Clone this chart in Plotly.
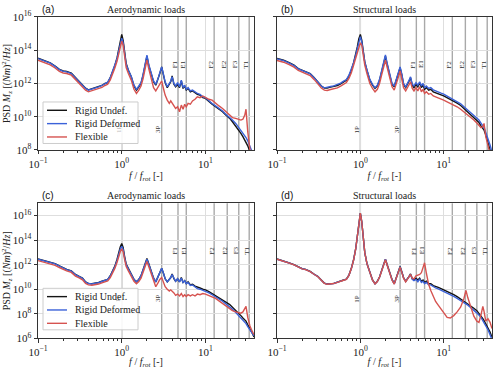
import numpy as np
import plotly.graph_objects as go

# normalised frequency f/f_rot
freq = [0.1, 0.12, 0.14, 0.16, 0.18, 0.2, 0.22, 0.25, 0.28, 0.31, 0.34, 0.37,
        0.4, 0.44, 0.48, 0.53, 0.58, 0.63, 0.68, 0.73, 0.78, 0.83, 0.88, 0.92, 0.96,
        1.0, 1.04, 1.08, 1.13, 1.2, 1.3, 1.4, 1.5, 1.6, 1.7, 1.8, 1.9,
        2.0, 2.1, 2.25, 2.4, 2.55, 2.7, 2.85, 3.0, 3.15, 3.3, 3.5, 3.7, 3.85,
        4.0, 4.2, 4.4, 4.65, 4.9, 5.15, 5.4, 5.65, 5.9, 6.2, 6.6, 7.0, 7.5,
        8.0, 8.6, 9.3, 10.0, 11.0, 12.0, 13.2, 14.5, 16.0, 17.5, 18.5, 19.5,
        21.0, 23.0, 25.0, 26.5, 28.0, 29.5, 30.5, 32.0, 34.0, 36.0, 38.0]

# log10 of PSD M_z
# (a) aerodynamic loads, top row
a_undef = [13.52, 13.38, 13.24, 13.05, 12.85, 12.75, 12.72, 12.62, 12.35, 12.12, 11.9, 11.72,
           11.62, 11.68, 11.74, 11.8, 11.88, 12.0, 12.05, 12.35, 12.7, 13.1, 13.55, 14.05, 14.6,
           14.95, 14.6, 13.9, 13.2, 12.8, 12.4, 11.85, 11.6, 11.8, 12.0, 12.5, 13.0,
           13.65, 13.1, 12.55, 12.1, 11.9, 12.2, 12.6, 13.0, 12.5, 12.05, 11.75, 11.95, 12.1,
           12.45, 11.95, 11.8, 11.95, 11.75, 12.15, 11.7, 11.85, 11.6, 11.7, 11.5, 11.55, 11.45,
           11.35, 11.3, 11.15, 11.1, 10.9, 10.75, 10.6, 10.45, 10.3, 10.1, 10.0, 9.9,
           9.7, 9.45, 9.2, 9.0, 8.8, 8.6, 8.45, 8.25, 7.9, 7.6, 7.3]
a_deformed = [13.5, 13.36, 13.22, 13.03, 12.83, 12.73, 12.7, 12.6, 12.33, 12.1, 11.88, 11.7,
              11.6, 11.66, 11.72, 11.8, 11.88, 12.0, 12.08, 12.35, 12.72, 13.1, 13.5, 13.95, 14.45,
              14.72, 14.45, 13.8, 13.15, 12.8, 12.42, 11.9, 11.65, 11.85, 12.05, 12.55, 13.05,
              13.7, 13.15, 12.6, 12.15, 11.95, 12.25, 12.65, 13.0, 12.55, 12.1, 11.8, 12.0, 12.15,
              12.4, 12.0, 11.85, 12.05, 11.8, 12.2, 11.75, 11.9, 11.65, 11.75, 11.55, 11.6, 11.5,
              11.4, 11.35, 11.2, 11.15, 10.95, 10.8, 10.65, 10.5, 10.35, 10.15, 10.05, 9.95,
              9.8, 9.6, 9.35, 9.2, 9.0, 8.85, 8.75, 8.55, 8.25, 7.95, 7.6]
a_flexible = [13.4, 13.26, 13.12, 12.93, 12.73, 12.63, 12.6, 12.5, 12.23, 12.0, 11.78, 11.6,
              11.5, 11.56, 11.62, 11.68, 11.76, 11.88, 11.95, 12.22, 12.55, 12.95, 13.35, 13.8, 14.25,
              14.55, 14.3, 13.6, 12.95, 12.6, 12.2, 11.65, 11.4, 11.6, 11.85, 12.3, 12.8,
              13.4, 12.9, 12.2, 11.75, 11.55, 11.75, 12.0, 12.15, 11.7, 11.3, 11.0, 10.8, 10.95,
              10.8, 10.65, 10.5, 10.6, 10.3, 10.7, 10.45, 10.75, 10.6, 10.8, 10.75, 10.95, 11.05,
              11.2, 11.15, 11.25, 11.15, 11.05, 11.0, 10.8, 10.65, 10.5, 10.3, 10.2, 10.1,
              9.95, 9.9, 9.85, 9.8, 9.85, 10.1, 10.45, 9.1, 8.0, 7.5, 7.2]

# (b) structural loads, top row
b_undef = [13.5, 13.4, 13.25, 13.1, 12.9, 12.8, 12.74, 12.6, 12.35, 12.05, 11.85, 11.72,
           11.72, 11.78, 11.82, 11.88, 11.98, 12.1, 12.2, 12.45, 12.8, 13.25, 13.75, 14.2, 14.7,
           14.95, 14.6, 14.0, 13.3, 12.8, 12.2, 11.9, 11.7, 11.85, 12.2, 12.7, 13.2,
           13.65, 13.15, 12.45, 11.95, 11.8, 12.2, 12.6, 12.95, 12.5, 11.95, 11.75, 11.95, 12.15,
           12.35, 11.9, 11.75, 11.95, 11.8, 12.05, 11.75, 11.9, 11.65, 11.75, 11.6, 11.65, 11.5,
           11.45, 11.42, 11.32, 11.25, 11.15, 11.05, 10.95, 10.82, 10.68, 10.5, 10.4, 10.3,
           10.15, 9.98, 9.82, 9.65, 9.45, 9.3, 9.2, 8.9, 8.5, 8.05, 7.6]
b_deformed = [13.48, 13.38, 13.23, 13.08, 12.88, 12.78, 12.72, 12.58, 12.33, 12.05, 11.85, 11.74,
              11.76, 11.82, 11.86, 11.92, 12.02, 12.14, 12.24, 12.5, 12.85, 13.25, 13.7, 14.1, 14.55,
              14.82, 14.5, 13.95, 13.3, 12.82, 12.25, 11.95, 11.75, 11.9, 12.25, 12.75, 13.25,
              13.72, 13.2, 12.5, 12.0, 11.85, 12.25, 12.65, 13.0, 12.55, 12.0, 11.8, 12.0, 12.2,
              12.4, 11.95, 11.85, 12.05, 11.9, 12.1, 11.85, 12.0, 11.75, 11.85, 11.7, 11.75, 11.62,
              11.55, 11.5, 11.42, 11.36, 11.25, 11.15, 11.05, 10.92, 10.78, 10.6, 10.5, 10.4,
              10.25, 10.1, 9.95, 9.8, 9.62, 9.45, 9.35, 9.05, 8.7, 8.3, 7.9]
b_flexible = [13.38, 13.28, 13.13, 12.98, 12.78, 12.68, 12.62, 12.48, 12.23, 11.93, 11.73, 11.6,
              11.58, 11.64, 11.68, 11.74, 11.84, 11.96, 12.06, 12.3, 12.65, 13.1, 13.55, 13.95, 14.3,
              14.45, 14.3, 13.75, 13.1, 12.6, 12.0, 11.7, 11.5, 11.65, 12.0, 12.5, 13.0,
              13.4, 12.95, 12.25, 11.8, 11.6, 11.95, 12.35, 12.75, 12.3, 11.75, 11.55, 11.75, 11.95,
              12.1, 11.7, 11.55, 11.75, 11.55, 11.8, 11.5, 11.65, 11.4, 11.5, 11.35, 11.4, 11.25,
              11.2, 11.15, 11.05, 11.0, 10.9, 10.82, 10.72, 10.6, 10.45, 10.3, 10.2, 10.1,
              9.95, 9.8, 9.62, 9.5, 9.35, 9.4, 9.6, 8.8, 8.2, 7.7, 7.3]

# (c) aerodynamic loads, bottom row
c_undef = [12.46, 12.33, 12.2, 12.08, 11.9, 11.72, 11.62, 11.5, 11.2, 11.05, 10.9, 10.6,
           10.48, 10.45, 10.48, 10.55, 10.65, 10.75, 10.8, 11.1, 11.45, 11.9, 12.45, 13.0, 13.45,
           13.72, 13.4, 12.7, 12.05, 11.7, 11.25, 10.8, 10.6, 10.8, 11.1, 11.6, 12.0,
           12.5, 12.1, 11.45, 10.9, 10.6, 10.95, 11.35, 11.7, 11.3, 10.85, 10.6, 10.8, 10.95,
           11.25, 10.85, 10.65, 10.85, 10.6, 10.95, 10.55, 10.7, 10.45, 10.6, 10.35, 10.4, 10.25,
           10.15, 10.1, 10.0, 9.95, 9.8, 9.65, 9.5, 9.3, 9.15, 8.95, 8.85, 8.75,
           8.55, 8.3, 8.05, 7.85, 7.65, 7.5, 7.4, 7.1, 6.8, 6.45, 6.1]
c_deformed = [12.44, 12.31, 12.18, 12.06, 11.88, 11.7, 11.6, 11.48, 11.18, 11.03, 10.88, 10.58,
              10.46, 10.43, 10.46, 10.53, 10.63, 10.73, 10.8, 11.08, 11.42, 11.85, 12.35, 12.85, 13.25,
              13.5, 13.25, 12.6, 12.0, 11.65, 11.2, 10.8, 10.6, 10.8, 11.1, 11.6, 12.0,
              12.45, 12.05, 11.45, 10.9, 10.6, 10.95, 11.35, 11.7, 11.3, 10.85, 10.6, 10.8, 10.95,
              11.2, 10.85, 10.65, 10.85, 10.6, 10.9, 10.55, 10.7, 10.45, 10.55, 10.3, 10.35, 10.2,
              10.05, 10.0, 9.9, 9.85, 9.7, 9.55, 9.4, 9.2, 9.02, 8.82, 8.7, 8.6,
              8.38, 8.1, 7.85, 7.65, 7.45, 7.3, 7.2, 6.95, 6.7, 6.45, 6.2]
c_flexible = [12.33, 12.2, 12.07, 11.95, 11.77, 11.59, 11.49, 11.37, 11.07, 10.92, 10.77, 10.47,
              10.35, 10.32, 10.35, 10.42, 10.52, 10.62, 10.67, 10.95, 11.3, 11.72, 12.2, 12.7, 13.05,
              13.3, 13.05, 12.45, 11.85, 11.5, 11.05, 10.65, 10.45, 10.62, 10.9, 11.4, 11.8,
              12.25, 11.85, 11.2, 10.6, 10.2, 10.5, 10.8, 10.95, 10.55, 10.2, 10.0, 9.85, 9.95,
              9.85, 9.7, 9.5, 9.6, 9.45, 9.65, 9.4, 9.55, 9.4, 9.55, 9.45, 9.55, 9.45,
              9.6, 9.55, 9.65, 9.6, 9.5, 9.4, 9.25, 9.05, 8.85, 8.65, 8.55, 8.45,
              8.25, 8.15, 8.1, 8.05, 8.15, 8.4, 8.6, 7.7, 7.0, 6.6, 6.3]

# (d) structural loads, bottom row
d_undef = [12.46, 12.32, 12.15, 12.0, 11.8, 11.68, 11.62, 11.45, 11.22, 11.04, 10.75, 10.5,
           10.42, 10.42, 10.48, 10.58, 10.7, 10.75, 10.82, 11.15, 11.7, 12.4, 13.3, 14.2, 15.2,
           16.2, 15.5, 14.5, 13.0, 12.1, 11.3, 10.75, 10.45, 10.65, 11.0, 11.55, 12.05,
           12.45, 12.0, 11.35, 10.8, 10.45, 10.9, 11.4, 11.85, 11.4, 10.95, 10.65, 10.85, 11.05,
           11.25, 10.85, 10.75, 10.9, 10.75, 10.9, 10.65, 10.75, 10.55, 10.65, 10.45, 10.45, 10.3,
           10.2, 10.15, 10.05, 9.95, 9.85, 9.7, 9.55, 9.4, 9.2, 9.05, 8.95, 8.85,
           8.7, 8.45, 8.25, 8.05, 7.85, 7.6, 7.45, 7.2, 6.85, 6.5, 6.1]
d_deformed = [12.45, 12.31, 12.14, 11.99, 11.79, 11.67, 11.61, 11.44, 11.21, 11.03, 10.74, 10.49,
              10.41, 10.41, 10.47, 10.57, 10.69, 10.74, 10.81, 11.14, 11.69, 12.39, 13.29, 14.19, 15.19,
              16.18, 15.49, 14.49, 12.99, 12.09, 11.29, 10.74, 10.44, 10.64, 10.99, 11.54, 12.04,
              12.44, 11.98, 11.33, 10.78, 10.43, 10.88, 11.38, 11.83, 11.38, 10.93, 10.63, 10.83, 11.03,
              11.2, 10.8, 10.7, 10.8, 10.6, 10.85, 10.55, 10.65, 10.45, 10.55, 10.35, 10.35, 10.2,
              10.1, 10.02, 9.92, 9.82, 9.7, 9.55, 9.42, 9.25, 9.08, 8.92, 8.82, 8.7,
              8.52, 8.3, 8.08, 7.9, 7.7, 7.45, 7.3, 7.05, 6.7, 6.3, 5.9]
d_flexible = [12.44, 12.3, 12.13, 11.98, 11.78, 11.66, 11.6, 11.43, 11.2, 11.02, 10.73, 10.48,
              10.4, 10.4, 10.46, 10.56, 10.68, 10.73, 10.8, 11.13, 11.68, 12.38, 13.28, 14.18, 15.18,
              16.2, 15.5, 14.5, 13.0, 12.08, 11.28, 10.73, 10.43, 10.63, 10.98, 11.53, 12.03,
              12.4, 11.95, 11.3, 10.75, 10.42, 10.85, 11.35, 11.8, 11.35, 10.9, 10.6, 10.82, 11.0,
              11.2, 10.9, 10.85, 11.1, 11.15, 11.2, 11.35, 11.75, 12.15, 11.3, 10.4, 9.9, 9.4,
              9.0, 8.7, 8.4, 8.1, 7.7, 7.65, 7.85, 8.15, 8.55, 9.25, 9.9, 9.3,
              8.6, 7.8, 7.4, 7.3, 7.9, 8.6, 8.2, 7.4, 7.6, 7.3, 6.8]

series_names = ['Rigid Undef.', 'Rigid Deformed', 'Flexible']

# rotor harmonics and blade modes
harm_names = ['1P', '3P']
harm_freq = [1.0, 3.0]
mode_names = ['F1', 'E1', 'F2', 'E2', 'F3', 'T1']
mode_freq = [4.7, 5.9, 12.7, 18.2, 25.0, 33.3]

x_ticks = [0.1, 1, 10]
x_ticktext = ['10<sup>−1</sup>', '10<sup>0</sup>', '10<sup>1</sup>']
x_minor = [0.2, 0.3, 0.4, 0.5, 0.6, 0.7, 0.8, 0.9, 2, 3, 4, 5, 6, 7, 8, 9, 20, 30]
y_ticks_top = [1e8, 1e10, 1e12, 1e14, 1e16]
y_ticks_bot = [1e6, 1e8, 1e10, 1e12, 1e14, 1e16]

for s in [a_undef, a_deformed, a_flexible, b_undef, b_deformed, b_flexible,
          c_undef, c_deformed, c_flexible, d_undef, d_deformed, d_flexible]:
    assert len(s) == len(freq), len(s)

SERIF = 'Liberation Serif'
COLORS = ['#141414', '#3b62d9', '#d65350']
W, H = 500, 369

panels = [
    dict(tag='(a)', title='Aerodynamic loads', ax='', data=(a_undef, a_deformed, a_flexible),
         xdom=[0.076, 0.508], ydom=[0.5935, 0.954], yr=[8, 16], yt=y_ticks_top, legend=True, ylab=True),
    dict(tag='(b)', title='Structural loads', ax='2', data=(b_undef, b_deformed, b_flexible),
         xdom=[0.554, 0.984], ydom=[0.5935, 0.954], yr=[8, 16], yt=y_ticks_top, legend=False, ylab=False),
    dict(tag='(c)', title='Aerodynamic loads', ax='3', data=(c_undef, c_deformed, c_flexible),
         xdom=[0.076, 0.508], ydom=[0.0832, 0.449], yr=[6, 17], yt=y_ticks_bot, legend=True, ylab=True),
    dict(tag='(d)', title='Structural loads', ax='4', data=(d_undef, d_deformed, d_flexible),
         xdom=[0.554, 0.984], ydom=[0.0832, 0.449], yr=[6, 17], yt=y_ticks_bot, legend=False, ylab=False),
]

fig = go.Figure()
layout = {
    'width': W, 'height': H,
    'margin': dict(l=0, r=0, t=0, b=0, autoexpand=False),
    'paper_bgcolor': 'white', 'plot_bgcolor': 'white',
    'font': dict(family=SERIF, size=10, color='#222222'),
    'showlegend': False,
}
shapes = []
annotations = []
f = np.array(freq)

for p in panels:
    xa = 'x' + p['ax']; ya = 'y' + p['ax']
    for vals, name, col in zip(p['data'], series_names, COLORS):
        fig.add_trace(go.Scatter(x=f, y=10 ** np.array(vals), mode='lines', name=name,
                                 line=dict(color=col, width=1.4), xaxis=xa, yaxis=ya))

    layout['xaxis' + p['ax']] = dict(
        type='log', range=[-1, np.log10(38)], domain=p['xdom'], anchor=ya, automargin=False,
        tickvals=x_ticks, ticktext=x_ticktext, ticks='outside', ticklen=3.5, tickwidth=0.8,
        tickcolor='#333', showline=True, linecolor='#333', linewidth=0.9, mirror=True,
        showgrid=True, gridcolor='#dedede', gridwidth=1, zeroline=False,
        tickfont=dict(family=SERIF, size=11, color='#222'),
        minor=dict(tickvals=x_minor, ticks='outside', ticklen=2, tickwidth=0.6, tickcolor='#333', showgrid=False),
        title=dict(text='<i>f</i> / <i>f<sub>rot</sub></i> [-]', font=dict(family=SERIF, size=10), standoff=2),
    )
    layout['yaxis' + p['ax']] = dict(
        type='log', range=p['yr'], domain=p['ydom'], anchor=xa, automargin=False,
        tickvals=p['yt'], ticktext=['10<sup>%d</sup>' % round(np.log10(v)) for v in p['yt']],
        showticklabels=p['ylab'], ticks='outside', ticklen=3.5, tickwidth=0.8, tickcolor='#333',
        showline=True, linecolor='#333', linewidth=0.9, mirror=True,
        showgrid=True, gridcolor='#dedede', gridwidth=1, zeroline=False,
        tickfont=dict(family=SERIF, size=11, color='#222'),
        title=dict(text='PSD <i>M<sub>z</sub></i> [(<i>Nm</i>)<sup>2</sup>/<i>Hz</i>]' if p['ylab'] else '',
                   font=dict(family=SERIF, size=10), standoff=3),
    )

    # vertical lines for harmonics and modes
    for fv in harm_freq + mode_freq:
        shapes.append(dict(type='line', xref=xa, yref=ya + ' domain', x0=fv, x1=fv, y0=0, y1=1,
                           line=dict(color='#a9a9a9', width=1.4), layer='below'))
    for nm, fv in zip(harm_names, harm_freq):
        col = 'rgba(51,51,51,0.35)' if (p['legend'] and nm == '1P') else '#333'
        annotations.append(dict(text=nm, x=np.log10(fv), y=9.25, xref=xa, yref=ya, showarrow=False,
                                textangle=-90, xshift=-3, font=dict(family=SERIF, size=7, color=col)))
    for nm, fv in zip(mode_names, mode_freq):
        annotations.append(dict(text=nm, x=np.log10(fv), y=13.15, xref=xa, yref=ya, showarrow=False,
                                textangle=-90, xshift=-3, font=dict(family=SERIF, size=7, color='#333')))

    ytitle = p['ydom'][1] + 7.5 / H
    annotations.append(dict(text=p['title'], x=(p['xdom'][0] + p['xdom'][1]) / 2, y=ytitle,
                            xref='paper', yref='paper', showarrow=False, xanchor='center', yanchor='middle',
                            font=dict(family=SERIF, size=10, color='#222')))
    annotations.append(dict(text=p['tag'], x=p['xdom'][0] + 0.003, y=ytitle, xref='paper', yref='paper',
                            showarrow=False, xanchor='left', yanchor='middle',
                            font=dict(family='Liberation Sans', size=10, color='#111')))

    # legend box drawn in the lower-left corner of the aerodynamic panels
    if p['legend']:
        top = 1 - (H * (1 - p['ydom'][1]) + 85) / H
        shapes.append(dict(type='rect', xref='paper', yref='paper', x0=43 / W, x1=138 / W,
                           y0=top - 41.5 / H, y1=top, fillcolor='rgba(255,255,255,0.85)',
                           line=dict(color='#cccccc', width=1), layer='above'))
        for k, (name, col) in enumerate(zip(series_names, COLORS)):
            yy = top - (8.3 + 13.35 * k) / H
            shapes.append(dict(type='line', xref='paper', yref='paper', x0=47 / W, x1=67 / W,
                               y0=yy, y1=yy, line=dict(color=col, width=1.4), layer='above'))
            annotations.append(dict(text=name, x=73 / W, y=yy, xref='paper', yref='paper',
                                    showarrow=False, xanchor='left', yanchor='middle',
                                    font=dict(family=SERIF, size=10, color='#222')))

layout['shapes'] = shapes
layout['annotations'] = annotations
fig.update_layout(layout)

# drop the browser's default page margin so the figure sits at the window corner
fig.write_html('out.html', config={'displayModeBar': False},
               post_script="document.body.style.margin='0';")
